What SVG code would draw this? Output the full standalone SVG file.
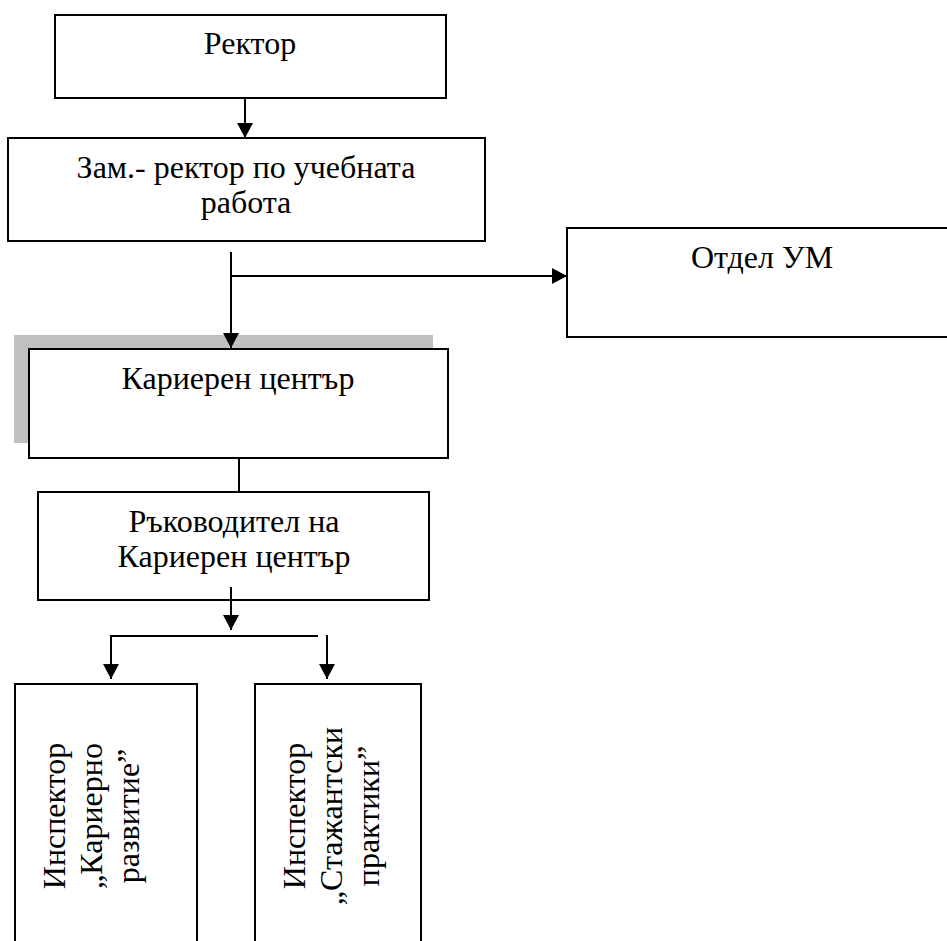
<svg xmlns="http://www.w3.org/2000/svg" width="947" height="941" viewBox="0 0 947 941">
  <defs>
    <marker id="arrow" viewBox="0 0 15 16" refX="15" refY="8" markerWidth="15" markerHeight="16" markerUnits="userSpaceOnUse" orient="auto">
      <path d="M0,0 L15,8 L0,16 Z" fill="#000"/>
    </marker>
  </defs>
  <style>
    .box { fill: #fff; stroke: #000; stroke-width: 2; }
    .shadow { fill: #c0c0c0; stroke: none; }
    .lbl { font-size: 32px; fill: #000; text-anchor: middle; }
    .con { fill: none; stroke: #000; stroke-width: 2; }
    .arr { marker-end: url(#arrow); }
  </style>
  <rect width="947" height="941" fill="#fff"/>

  <g font-family="'Liberation Serif', Tinos, 'Times New Roman', 'DejaVu Serif', serif">
  <g id="rector">
    <rect class="box" x="55" y="15" width="391" height="83"/>
    <text class="lbl" x="250" y="54">Ректор</text>
  </g>

  <g id="deputy-rector">
    <rect class="box" x="8" y="138" width="477" height="103"/>
    <text class="lbl" x="246" y="178">Зам.- ректор по учебната</text>
    <text class="lbl" x="246" y="213">работа</text>
  </g>

  <g id="otdel-um">
    <rect class="box" x="567" y="228" width="400" height="109"/>
    <text class="lbl" x="762" y="268">Отдел УМ</text>
  </g>

  <g id="career-center">
    <rect class="shadow" x="14" y="335" width="419" height="108"/>
    <rect class="box" x="29" y="349" width="419" height="109"/>
    <text class="lbl" x="238" y="389">Кариерен център</text>
  </g>

  <g id="head-career-center">
    <rect class="box" x="38" y="492" width="391" height="108"/>
    <text class="lbl" x="234" y="532">Ръководител на</text>
    <text class="lbl" x="234" y="567">Кариерен център</text>
  </g>

  <g id="inspector-career-development">
    <rect class="box" x="15" y="684" width="182" height="280"/>
    <text class="lbl" transform="translate(65,816) rotate(-90)">Инспектор</text>
    <text class="lbl" transform="translate(102,816) rotate(-90)">„Кариерно</text>
    <text class="lbl" transform="translate(139,816) rotate(-90)">развитие”</text>
  </g>

  <g id="inspector-internships">
    <rect class="box" x="255" y="684" width="166" height="280"/>
    <text class="lbl" transform="translate(305,816) rotate(-90)">Инспектор</text>
    <text class="lbl" transform="translate(342,816) rotate(-90)">„Стажантски</text>
    <text class="lbl" transform="translate(379,816) rotate(-90)">практики”</text>
  </g>
  </g>

  <g id="connectors">
    <line class="con arr" x1="245" y1="98" x2="245" y2="138"/>
    <line class="con arr" x1="231" y1="252" x2="231" y2="348"/>
    <line class="con arr" x1="231" y1="276" x2="567" y2="276"/>
    <line class="con" x1="239" y1="458" x2="239" y2="492"/>
    <line class="con arr" x1="231" y1="587" x2="231" y2="630"/>
    <line class="con" x1="110" y1="636" x2="318" y2="636"/>
    <line class="con arr" x1="111" y1="636" x2="111" y2="679"/>
    <line class="con arr" x1="327" y1="635" x2="327" y2="679"/>
  </g>
</svg>
